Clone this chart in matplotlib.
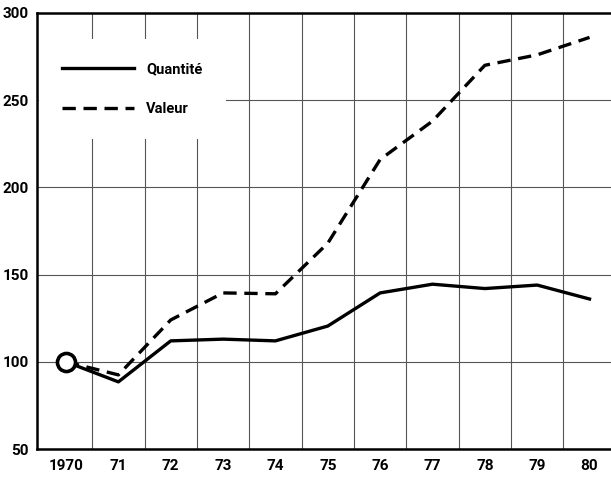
import numpy as np
import matplotlib
matplotlib.use('Agg')
import matplotlib.pyplot as plt

annees = [1970, 1971, 1972, 1973, 1974, 1975, 1976, 1977, 1978, 1979, 1980]
etiquettes = ['1970', '71', '72', '73', '74', '75', '76', '77', '78', '79', '80']
quantite = [100, 88.5, 112, 113, 112, 120.5, 139.5, 144.5, 142, 144, 136]
valeur = [100, 92.5, 124, 139.5, 139, 168, 216, 238, 270, 276, 286]
yticks = [50, 100, 150, 200, 250, 300]

plt.rcParams['font.family'] = ['Roboto', 'DejaVu Sans']
plt.rcParams['font.weight'] = 'bold'

fig = plt.figure(figsize=(6.11, 4.79), dpi=100)
ax = fig.add_axes([0.0606, 0.0626, 0.9394, 0.9103])

ax.plot(annees, quantite, '-k', lw=2.4, label='Quantité')
ax.plot(annees, valeur, color='k', lw=2.4, ls=(0, (4, 2.3)), label='Valeur')
ax.plot(annees[0], quantite[0], 'o', ms=13, mfc='white', mec='k', mew=2.6, zorder=5)

ax.set_xlim(1969.446, 1980.41)
ax.set_ylim(50, 300)
ax.set_xticks(annees)
ax.set_xticklabels(etiquettes)
ax.set_xticks([a + 0.5 for a in annees[:-1]], minor=True)
ax.set_yticks(yticks)
ax.tick_params(which='both', length=0)
ax.tick_params(axis='x', pad=7, labelsize=11)
ax.tick_params(axis='y', pad=6, labelsize=11)

ax.grid(True, which='minor', axis='x', color='#555555', lw=0.8)
ax.grid(True, which='major', axis='y', color='#555555', lw=0.8)
ax.set_axisbelow(True)

for s in ['left', 'bottom', 'top']:
    ax.spines[s].set_linewidth(1.8)
ax.spines['right'].set_visible(False)

leg = ax.legend(loc='upper left', bbox_to_anchor=(0.003, 0.94), borderaxespad=0,
                frameon=True, fancybox=False, edgecolor='none', facecolor='white',
                framealpha=1, handlelength=4.9, handletextpad=0.85, labelspacing=1.75,
                borderpad=1.6, prop={'size': 10.5, 'weight': 'bold'})

fig.savefig('out.png', dpi=100)
